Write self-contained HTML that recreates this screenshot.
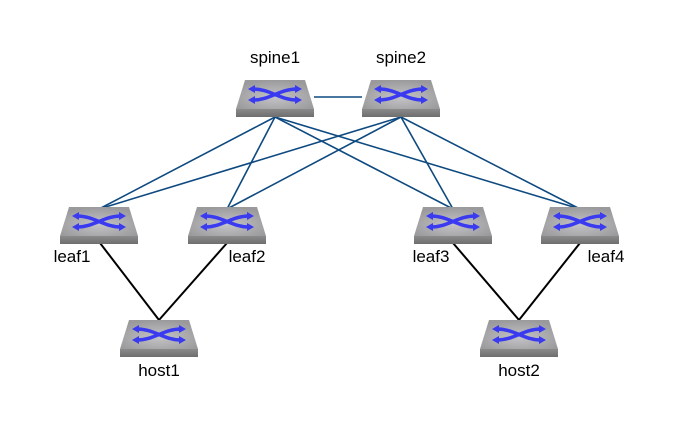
<!DOCTYPE html>
<html><head><style>
html,body{margin:0;padding:0;background:#fff;width:679px;height:434px;overflow:hidden}
text{font-family:"Liberation Sans",sans-serif;font-size:17px;fill:#000}
</style></head><body>
<svg width="679" height="434" xmlns="http://www.w3.org/2000/svg">
<defs>
<radialGradient id="tg" cx="50%" cy="60%" r="60%">
<stop offset="0" stop-color="#c4c4c8"/><stop offset="1" stop-color="#9a9a9c"/>
</radialGradient>
<linearGradient id="sg" x1="0" y1="0" x2="0" y2="1">
<stop offset="0" stop-color="#8a8a8a"/><stop offset="1" stop-color="#6e6e6e"/>
</linearGradient>
<g id="sw">
<polygon points="-30,0 30,0 39,29 -39,29" fill="url(#tg)"/>
<rect x="-39" y="29" width="78" height="8" fill="url(#sg)"/>
<g stroke="#3a3af0" stroke-width="3.5" fill="none" stroke-linecap="round">
<path d="M-22,9 C-5,9 5,20 22,20"/>
<path d="M-22,20 C-5,20 5,9 22,9"/>
</g>
<g fill="#3a3af0">
<polygon points="-27,9 -20,5 -20,13"/><polygon points="27,9 20,5 20,13"/>
<polygon points="-27,20 -20,16 -20,24"/><polygon points="27,20 20,16 20,24"/>
</g>
</g>
</defs>
<g stroke="#0e4a80" stroke-width="1.6">
<line x1="314" y1="97" x2="362" y2="97"/>
<line x1="275" y1="117" x2="99" y2="209"/>
<line x1="275" y1="117" x2="227" y2="209"/>
<line x1="275" y1="117" x2="453" y2="209"/>
<line x1="275" y1="117" x2="580" y2="209"/>
<line x1="401" y1="117" x2="99" y2="209"/>
<line x1="401" y1="117" x2="227" y2="209"/>
<line x1="401" y1="117" x2="453" y2="209"/>
<line x1="401" y1="117" x2="580" y2="209"/>
</g>
<g stroke="#000" stroke-width="2">
<line x1="100" y1="243" x2="159" y2="320"/>
<line x1="227" y1="243" x2="159" y2="320"/>
<line x1="453" y1="243" x2="519" y2="320"/>
<line x1="580" y1="243" x2="519" y2="320"/>
</g>
<use href="#sw" x="275" y="80"/>
<use href="#sw" x="401" y="80"/>
<use href="#sw" x="99" y="207"/>
<use href="#sw" x="227" y="207"/>
<use href="#sw" x="453" y="207"/>
<use href="#sw" x="580" y="207"/>
<use href="#sw" x="159" y="320"/>
<use href="#sw" x="519" y="320"/>
<text x="275" y="63" text-anchor="middle">spine1</text>
<text x="401" y="63" text-anchor="middle">spine2</text>
<text x="72" y="262" text-anchor="middle">leaf1</text>
<text x="247" y="262" text-anchor="middle">leaf2</text>
<text x="431" y="262" text-anchor="middle">leaf3</text>
<text x="606" y="262" text-anchor="middle">leaf4</text>
<text x="159" y="376" text-anchor="middle">host1</text>
<text x="519" y="376" text-anchor="middle">host2</text>
</svg>
</body></html>
